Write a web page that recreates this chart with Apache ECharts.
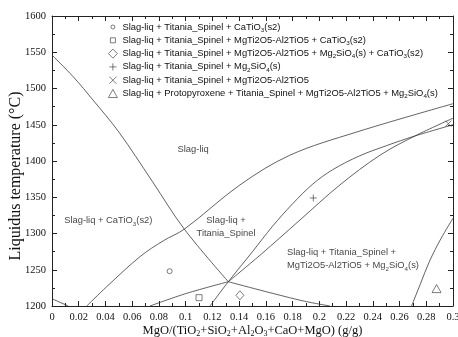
<!DOCTYPE html>
<html>
<head>
<meta charset="utf-8">
<script src="https://cdn.jsdelivr.net/npm/echarts@6/dist/echarts.min.js"></script>
<style>
html,body{margin:0;padding:0;background:#fff;}
#chart{width:458px;height:337px;}
</style>
</head>
<body>
<div id="chart"></div>
<script>
// ---- data ----
const curveA = [[0,1546],[0.016,1516],[0.0307,1484],[0.05,1440],[0.075,1372],[0.099,1306],[0.1319,1233.5]];
const curveArchLeft = [[0.0733,1200],[0.1008,1217.5],[0.1319,1233.5]];
const curveArchRight = [[0.1319,1233.5],[0.1855,1208],[0.208,1200]];
const curveB = [[0.026,1200],[0.0409,1226.6],[0.0658,1268],[0.0833,1290],[0.099,1306],[0.1406,1367],[0.178,1408],[0.228,1440],[0.3,1479]];
const curveC1 = [[0.1182,1200],[0.1319,1233.5],[0.15,1275],[0.165,1310],[0.18,1341],[0.195,1368],[0.21,1388],[0.23,1407],[0.25,1421],[0.2715,1434.5],[0.3,1450]];
const curveC2 = [[0.1319,1233.5],[0.1556,1270],[0.1855,1318.6],[0.2154,1367],[0.2454,1408],[0.2715,1434.5],[0.3,1459]];
const curveCorner = [[0,1210],[0.0122,1200]];
const curveF = [[0.269,1200],[0.2755,1230],[0.2825,1262],[0.291,1293],[0.3,1321]];

const markerNames = [
  'Slag-liq + Titania_Spinel + CaTiO3(s2)',
  'Slag-liq + Titania_Spinel + MgTi2O5-Al2TiO5 + CaTiO3(s2)',
  'Slag-liq + Titania_Spinel + MgTi2O5-Al2TiO5 + Mg2SiO4(s) + CaTiO3(s2)',
  'Slag-liq + Titania_Spinel + Mg2SiO4(s)',
  'Slag-liq + Titania_Spinel + MgTi2O5-Al2TiO5',
  'Slag-liq + Protopyroxene + Titania_Spinel + MgTi2O5-Al2TiO5 + Mg2SiO4(s)'
];
const markerX = [0.088, 0.110, 0.1406, 0.1955, 0.2965, 0.2877];
const markerY = [1248, 1211.5, 1214.8, 1349, 1451.5, 1224];

const regionText = ['Slag-liq', 'Slag-liq + CaTiO3(s2)', 'Slag-liq +\nTitania_Spinel', 'Slag-liq + Titania_Spinel +\nMgTi2O5-Al2TiO5 + Mg2SiO4(s)'];
const regionX = [0.1056, 0.0421, 0.1302, 0.1758];
const regionY = [1416, 1318, 1309, 1265];

// ---- styling ----
const lineColor = '#3a3a3a';
const axisColor = '#222';
const sans = '"Liberation Sans", Arial, sans-serif';
const serif = '"Liberation Serif", "Times New Roman", serif';
const symbols = ['circle', 'rect', 'diamond',
  'path://M5,0L5,10M0,5L10,5',
  'path://M0,0L10,10M10,0L0,10',
  'triangle'];
const symbolSizes = [5, 6, [8, 9], 7, 6, [9, 8]];
// legend icons (padded paths so small markers stay small)
const legendIcons = [
  'path://M0,0M10,10M2.8,5A2.2,2.2,0,1,1,7.2,5A2.2,2.2,0,1,1,2.8,5Z',
  'path://M0,0M10,10M2.2,2.2L7.8,2.2L7.8,7.8L2.2,7.8Z',
  'path://M5,0L10,5L5,10L0,5Z',
  'path://M0,0M10,10M5,1L5,9M1,5L9,5',
  'path://M0,0M10,10M1,1L9,9M9,1L1,9',
  'path://M5,0.5L10,9.5L0,9.5Z'
];
const regionAlign = ['center', 'center', 'center', 'left'];

function chem(s) {
  return s.replace(/CaTiO3/g, 'CaTiO{s|3}').replace(/Mg2SiO4/g, 'Mg{s|2}SiO{s|4}');
}
const fs = 9.4;

const chart = echarts.init(document.getElementById('chart'), null, {renderer: 'canvas'});

function lineSeries(data) {
  return {
    type: 'line', data: data, smooth: 0.35, symbol: 'none', silent: true,
    lineStyle: {color: lineColor, width: 0.8}, xAxisIndex: 0, yAxisIndex: 0, z: 2
  };
}

const series = [
  lineSeries(curveA), lineSeries(curveArchLeft), lineSeries(curveArchRight),
  lineSeries(curveB), lineSeries(curveC1), lineSeries(curveC2),
  lineSeries(curveCorner), lineSeries(curveF)
];
markerNames.forEach(function (n, i) {
  series.push({
    type: 'scatter', name: n, symbol: symbols[i], symbolSize: symbolSizes[i],
    data: [[markerX[i], markerY[i]]],
    itemStyle: {color: 'rgba(255,255,255,0)', borderColor: '#333', borderWidth: 0.8},
    z: 3
  });
});
series.push({
  type: 'scatter', name: 'regions', symbolSize: 0, silent: true,
  data: regionText.map(function (t, i) {
    return {value: [regionX[i], regionY[i]], text: t,
      label: {align: regionAlign[i]}};
  }),
  label: {
    show: true, position: 'inside', color: '#111', fontFamily: sans, fontSize: fs, lineHeight: 13,
    formatter: function (p) { return chem(p.data.text); },
    rich: {s: {fontSize: 6.2, fontFamily: sans, color: '#111', verticalAlign: 'bottom', padding: [5, 0, 0, 0], lineHeight: 13}}
  }
});

const tickX = {min: 0, max: 0.3, interval: 0.02};

chart.setOption({
  animation: false,
  backgroundColor: '#fff',
  grid: {left: 52, right: 5, top: 16, bottom: 31, containLabel: false, outerBoundsMode: 'none'},
  legend: {
    data: markerNames.map(function (n, i) { return {name: n, icon: legendIcons[i]}; }),
    orient: 'vertical', left: 108, top: 21,
    itemWidth: 9, itemHeight: 9, itemGap: 1.3,
    padding: 0,
    itemStyle: {color: 'rgba(255,255,255,0)', borderColor: '#333', borderWidth: 0.8},
    textStyle: {fontFamily: sans, fontSize: fs, color: '#111', lineHeight: 12,
      rich: {s: {fontSize: 6.2, fontFamily: sans, color: '#111', verticalAlign: 'bottom', padding: [4, 0, 0, 0], lineHeight: 12}}},
    formatter: function (n) { return chem(n); },
    selectedMode: false
  },
  xAxis: [{
    type: 'value', min: tickX.min, max: tickX.max, interval: tickX.interval, position: 'bottom',
    axisLine: {show: true, onZero: false, lineStyle: {color: axisColor, width: 1}},
    axisTick: {show: true, inside: true, length: 5, lineStyle: {color: axisColor}},
    minorTick: {show: true, splitNumber: 2, length: 3, lineStyle: {color: axisColor}},
    splitLine: {show: false},
    axisLabel: {fontFamily: serif, fontSize: 10.5, color: '#111', margin: 6,
      formatter: function (v) { return String(+v.toFixed(2)); }},
    name: 'MgO/(TiO{s|2}+SiO{s|2}+Al{s|2}O{s|3}+CaO+MgO) (g/g)',
    nameLocation: 'middle', nameGap: 18, nameMoveOverlap: false,
    nameTextStyle: {fontFamily: serif, fontSize: 12.5, color: '#111',
      rich: {s: {fontFamily: serif, fontSize: 8, verticalAlign: 'bottom', padding: [6, 0, 0, 0], color: '#111'}}}
  }, {
    type: 'value', min: tickX.min, max: tickX.max, interval: tickX.interval, position: 'top',
    axisLine: {show: true, onZero: false, lineStyle: {color: axisColor, width: 1}},
    axisTick: {show: true, inside: true, length: 5, lineStyle: {color: axisColor}},
    minorTick: {show: true, splitNumber: 2, length: 3, lineStyle: {color: axisColor}},
    splitLine: {show: false}, axisLabel: {show: false}
  }],
  yAxis: [{
    type: 'value', min: 1200, max: 1600, interval: 50, position: 'left',
    axisLine: {show: true, onZero: false, lineStyle: {color: axisColor, width: 1}},
    axisTick: {show: true, inside: true, length: 5, lineStyle: {color: axisColor}},
    minorTick: {show: true, splitNumber: 2, length: 3, lineStyle: {color: axisColor}},
    splitLine: {show: false},
    axisLabel: {fontFamily: serif, fontSize: 10.5, color: '#111', margin: 6,
      formatter: function (v) { return String(v); }},
    name: 'Liquidus temperature (°C)', nameLocation: 'middle', nameGap: 28, nameRotate: 90,
    nameMoveOverlap: false,
    nameTextStyle: {fontFamily: serif, fontSize: 16, color: '#111', padding: [0, 30, 0, 0]}
  }, {
    type: 'value', min: 1200, max: 1600, interval: 50, position: 'right',
    axisLine: {show: true, onZero: false, lineStyle: {color: axisColor, width: 1}},
    axisTick: {show: true, inside: true, length: 5, lineStyle: {color: axisColor}},
    minorTick: {show: true, splitNumber: 2, length: 3, lineStyle: {color: axisColor}},
    splitLine: {show: false}, axisLabel: {show: false}
  }],
  series: series
});
</script>
</body>
</html>
